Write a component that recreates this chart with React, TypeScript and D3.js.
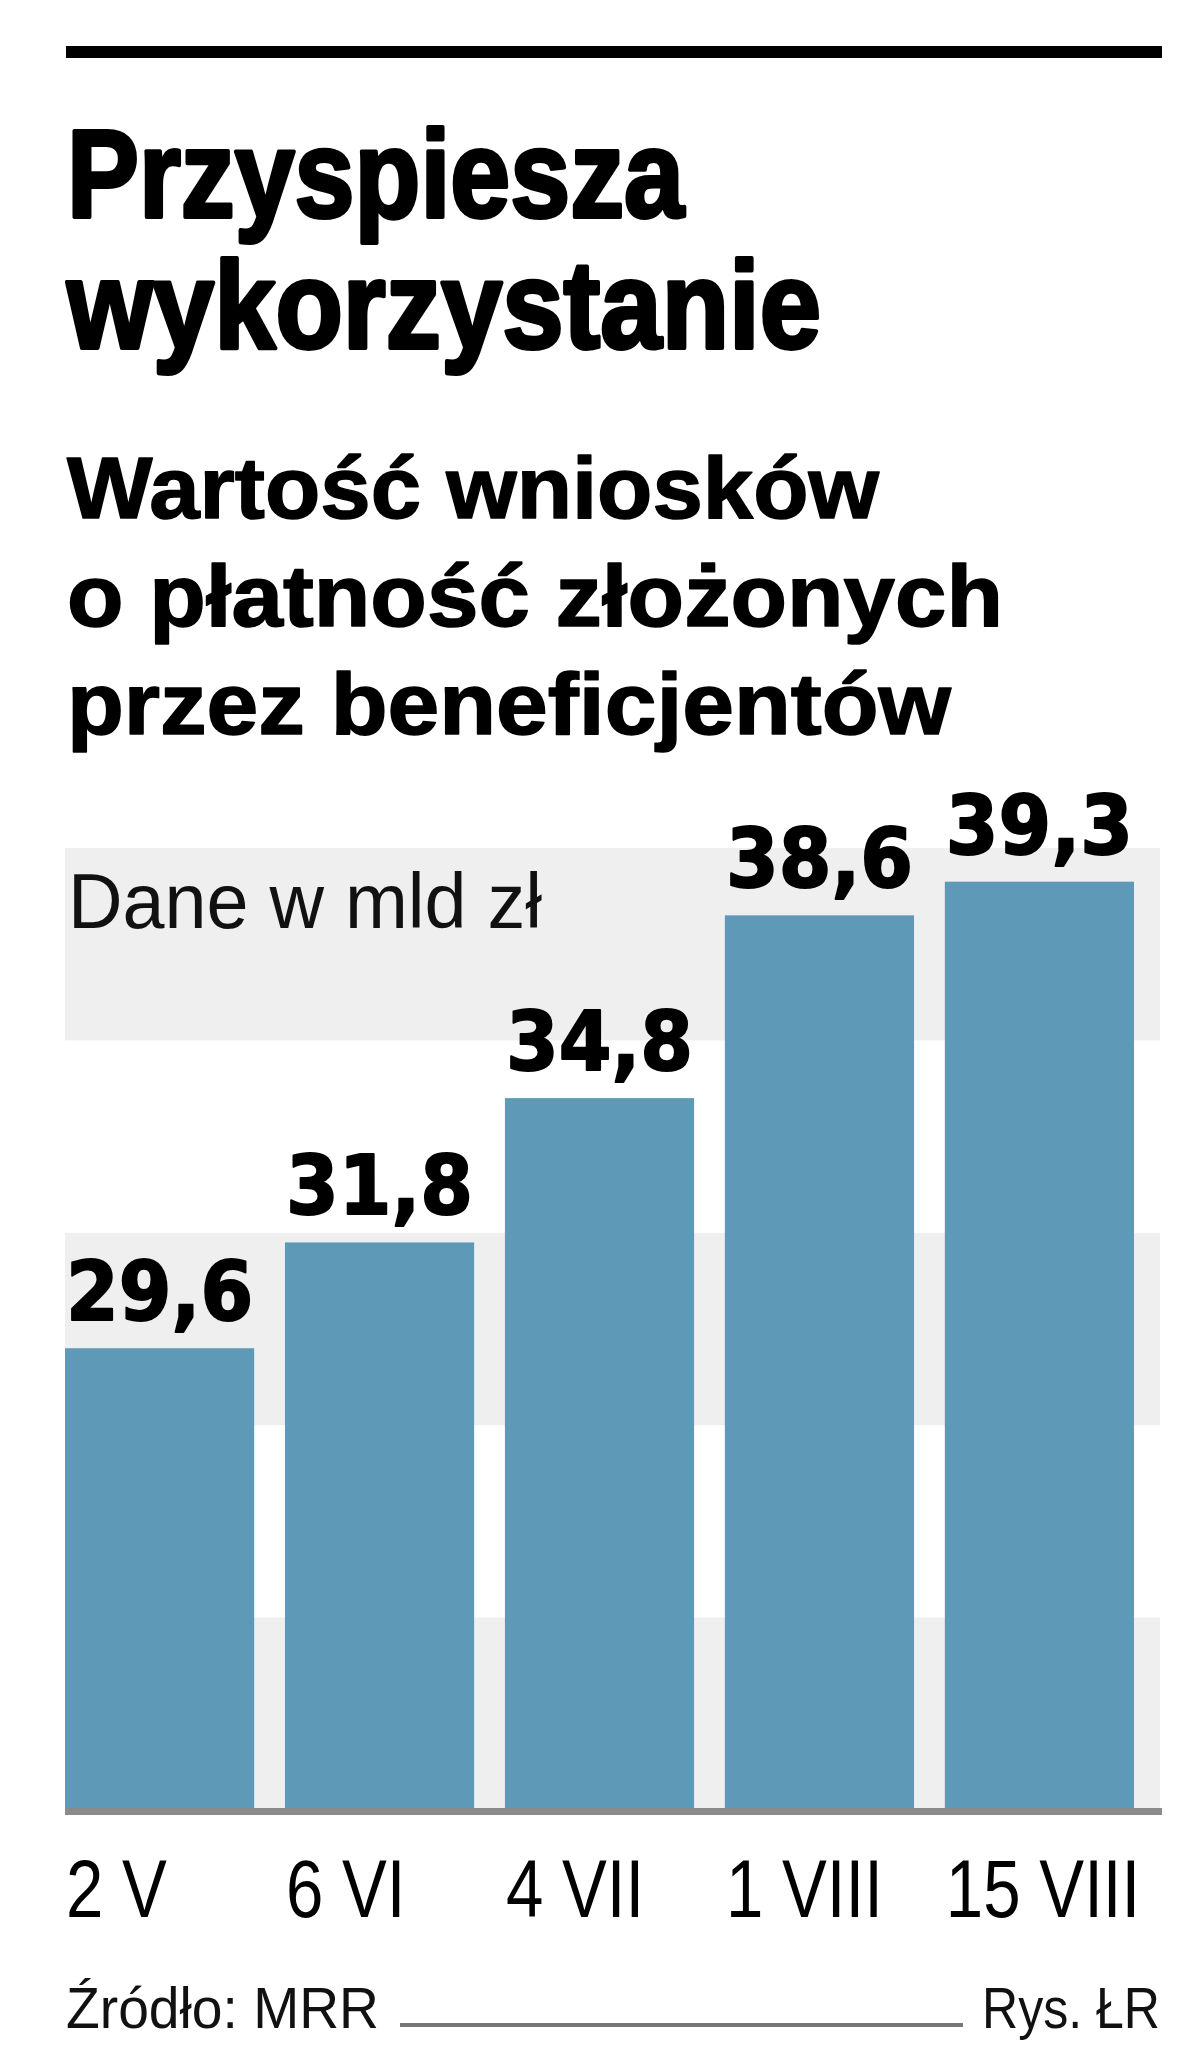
import React from 'react';
import * as d3 from 'd3';

const categories: string[] = ['2 V', '6 VI', '4 VII', '1 VIII', '15 VIII'];
const values: number[] = [29.6, 31.8, 34.8, 38.6, 39.3];
const bandTicks: number[] = [20, 24, 28, 32, 36, 40];
const titleLines: string[] = ['Przyspiesza', 'wykorzystanie'];
const subtitleLines: string[] = ['Wartość wniosków', 'o płatność złożonych', 'przez beneficjentów'];
const unitLabel = 'Dane w mld zł';
const sourceLabel = 'Źródło: MRR';
const creditLabel = 'Rys. ŁR';

const W = 1200;
const H = 2065;
const LEFT = 65;
const RIGHT = 1162;
const BASE = 1810;
const TOP = 848;

const BAR_COLOR = '#5e99b8';
const BAND_COLOR = '#efefef';

export default function App() {
  const x = d3.scaleBand<string>().domain(categories).range([LEFT, 1134]).paddingInner(0.14).paddingOuter(0);
  const y = d3.scaleLinear().domain([20, 40]).range([BASE, TOP]);
  const fmt = (v: number) => d3.format('.1f')(v).replace('.', ',');

  const bands: [number, number][] = [];
  for (let i = 0; i < bandTicks.length - 1; i += 2) bands.push([bandTicks[i], bandTicks[i + 1]]);

  const titleWidths = [617, 754];
  const subWidths = [812, 936, 884];

  return (
    <svg width={W} height={H} style={{ position: 'absolute', left: 0, top: 0, background: '#fff' }}>
      <rect x={0} y={0} width={W} height={H} fill="#fff" />
      {/* top rule */}
      <rect x={66} y={46} width={1096} height={12} fill="#000" />

      {/* title */}
      {titleLines.map((t, i) => (
        <text key={t} x={67} y={217 + i * 131} fontFamily="Liberation Sans, Arial, sans-serif" fontWeight={700}
          fontSize={124} fill="#000" stroke="#000" strokeWidth={4} strokeLinejoin="round"
          textLength={titleWidths[i]} lengthAdjust="spacingAndGlyphs">{t}</text>
      ))}

      {/* subtitle */}
      {subtitleLines.map((t, i) => (
        <text key={t} x={67} y={518 + i * 108} fontFamily="Liberation Sans, Arial, sans-serif" fontWeight={700}
          fontSize={88} fill="#000" stroke="#000" strokeWidth={1.5} strokeLinejoin="round"
          textLength={subWidths[i]} lengthAdjust="spacingAndGlyphs">{t}</text>
      ))}

      {/* bands */}
      {bands.map(([a, b]) => (
        <rect key={a} x={LEFT} y={y(b)} width={1160 - LEFT} height={y(a) - y(b)} fill={BAND_COLOR} />
      ))}

      <text x={68} y={928} fontFamily="Liberation Sans, Arial, sans-serif" fontSize={77} fill="#111"
        textLength={474} lengthAdjust="spacingAndGlyphs">{unitLabel}</text>

      {/* bars */}
      {values.map((v, i) => (
        <rect key={categories[i]} x={x(categories[i])} y={y(v)} width={x.bandwidth()} height={BASE - y(v)} fill={BAR_COLOR} />
      ))}

      {/* value labels */}
      {values.map((v, i) => (
        <text key={'l' + i} x={(x(categories[i]) as number) + 1} y={y(v) - 28}
          fontFamily="DejaVu Sans, sans-serif" fontWeight={700} fontSize={82} fill="#000"
          stroke="#000" strokeWidth={2} strokeLinejoin="round"
          textLength={x.bandwidth() - 2} lengthAdjust="spacingAndGlyphs">{fmt(v)}</text>
      ))}

      {/* axis line */}
      <rect x={LEFT} y={BASE - 2} width={RIGHT - LEFT} height={7} fill="#8a8a8a" />

      {/* x labels */}
      {categories.map((c) => (
        <text key={c} transform={`translate(${(x(c) as number) + 1},1917) scale(0.82,1)`}
          fontFamily="Liberation Sans, Arial, sans-serif" fontSize={82} fill="#000">{c}</text>
      ))}

      {/* footer */}
      <text x={66} y={2028} fontFamily="Liberation Sans, Arial, sans-serif" fontSize={58} fill="#111"
        textLength={313} lengthAdjust="spacingAndGlyphs">{sourceLabel}</text>
      <line x1={400} x2={963} y1={2025} y2={2025} stroke="#777" strokeWidth={4} />
      <text x={982} y={2028} fontFamily="Liberation Sans, Arial, sans-serif" fontSize={58} fill="#111"
        textLength={178} lengthAdjust="spacingAndGlyphs">{creditLabel}</text>
    </svg>
  );
}
